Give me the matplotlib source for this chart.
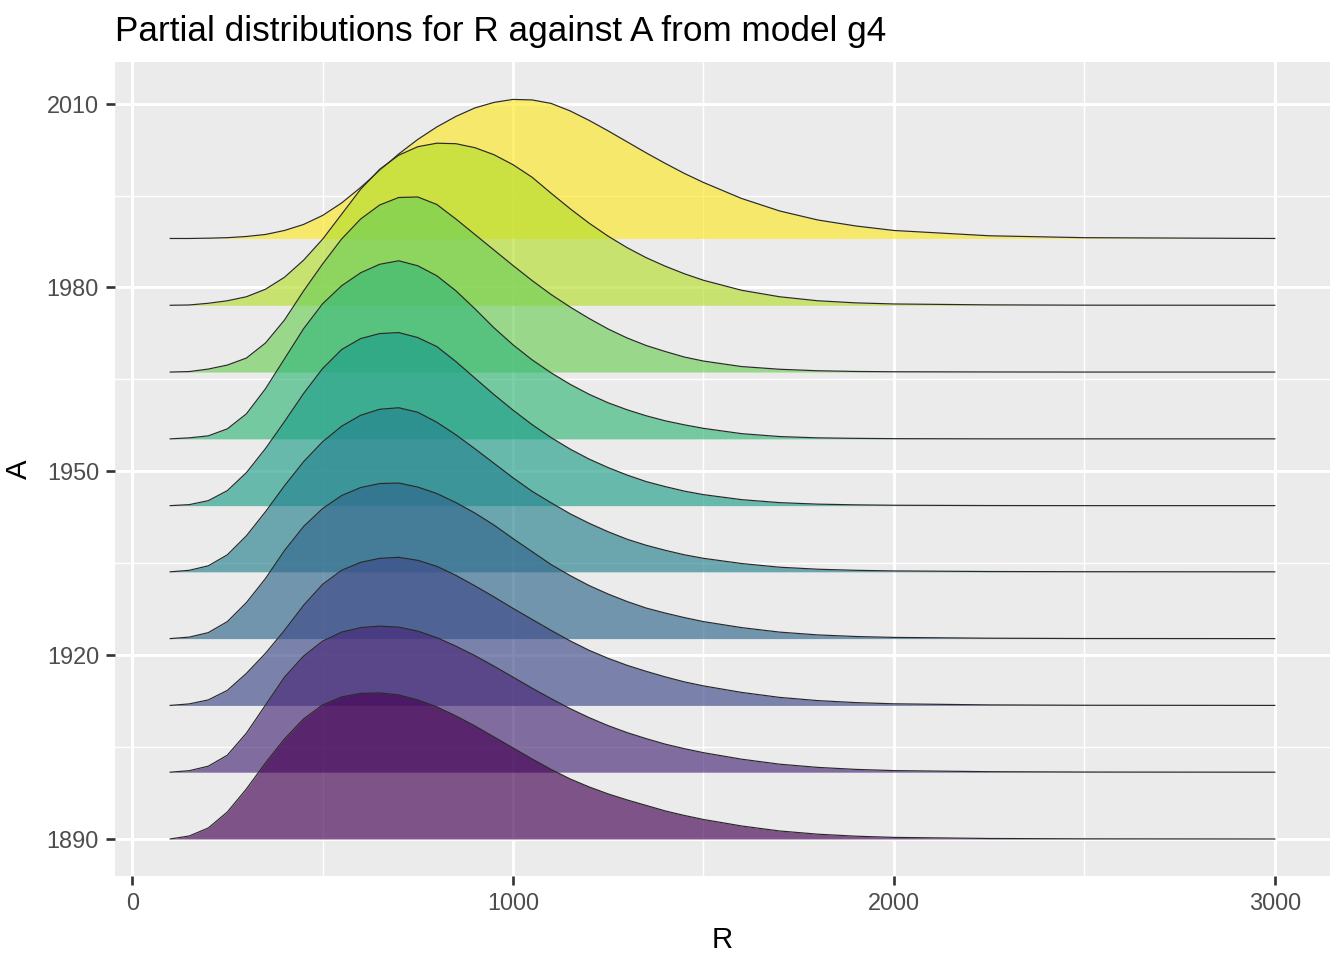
import numpy as np
import matplotlib.pyplot as plt

plt.rcParams['font.family'] = ['Liberation Sans', 'DejaVu Sans']

r_grid = [100, 150, 200, 250, 300, 350, 400, 450, 500, 550, 600, 650, 700,
          750, 800, 850, 900, 950, 1000, 1050, 1100, 1150, 1200, 1250, 1300,
          1350, 1400, 1450, 1500, 1600, 1700, 1800, 1900, 2000, 2250, 2500, 3000]

# A value of each ridge (baseline)
a_levels = [1890.0, 1900.9, 1911.8, 1922.7, 1933.6, 1944.4, 1955.3, 1966.2, 1977.1, 1988.0]

# ridge heights (scaled density) per A level
dens_1890 = [0, 3, 11, 27, 50, 76, 100, 120, 134, 142, 145.5, 146, 144, 139, 132, 123,
             113, 102, 91, 80, 69.5, 60, 52, 45, 39, 33.5, 28, 23.5, 19.5, 13, 8, 4.8,
             2.8, 1.6, 0.5, 0.15, 0]
dens_1901 = [0, 1.5, 6, 17, 39, 67, 95, 116, 131, 140, 144.5, 146, 145, 141, 134.5, 126,
             116.5, 106, 95, 84, 73.5, 63.5, 54.5, 46.5, 39.5, 33.5, 28, 23.5, 19.5, 13, 8, 4.8,
             2.8, 1.6, 0.5, 0.15, 0]
dens_1912 = [0, 1.5, 5.5, 15, 32, 52, 75, 100, 121, 135, 143, 147, 148, 145, 139, 130,
             119.5, 108.5, 97, 86, 75, 64.5, 55, 47, 40, 34, 28.5, 23.5, 19.5, 13, 8, 4.8,
             2.8, 1.6, 0.5, 0.15, 0]
dens_1923 = [0, 1.5, 6, 17, 36, 60, 88, 112, 130, 143, 151, 155, 155.5, 151.5, 145, 136,
             125.5, 113.5, 100, 87, 74, 63, 53, 44.5, 37, 30.5, 25.5, 21, 17, 11, 6.5, 3.7,
             2.1, 1.2, 0.4, 0.1, 0]
dens_1934 = [0, 1.5, 6, 17, 36, 60, 86, 110, 130, 145.5, 156.5, 162.5, 164, 159.5, 149.5, 137,
             123, 108.5, 94, 80.5, 69, 58, 48.5, 40, 32.5, 26.5, 21.5, 17, 13.5, 8.3, 4.6, 2.6,
             1.5, 0.9, 0.3, 0.1, 0]
dens_1944 = [0, 1, 5, 15, 33, 57, 84, 112, 137, 156, 167, 172, 173, 168, 159, 144,
             127.5, 111, 95.5, 81, 68, 56.5, 46.5, 38, 30.5, 24, 19, 14.5, 11, 6, 3, 1.5,
             0.8, 0.4, 0.1, 0, 0]
dens_1955 = [0, 1, 3, 10, 25, 50, 80, 110, 135, 153, 166, 174.5, 178, 173, 163, 148,
             130, 111, 94, 79, 66, 54.5, 44.5, 36, 29, 23, 18, 14, 10.5, 5.2, 2.3, 1,
             0.5, 0.2, 0, 0, 0]
dens_1966 = [0, 0.5, 3, 7, 14, 29, 52, 81, 108, 133, 153, 167, 174.5, 175, 167.5, 153,
             137.5, 122, 106.5, 91.5, 77.5, 65, 53.5, 43, 34, 26.5, 20.5, 15, 11, 5.5, 2.8, 1.3,
             0.6, 0.3, 0.1, 0, 0]
dens_1977 = [0, 0.3, 2, 4.5, 8.5, 16, 28, 45, 66, 91, 116, 136, 150, 158.5, 162, 161.5,
             157.5, 150.5, 140.5, 128, 112, 96.5, 82, 69, 57.5, 47.5, 39, 31.5, 25, 15, 8.5, 4.5,
             2.4, 1.3, 0.4, 0.1, 0]
dens_1988 = [0, 0, 0.3, 0.8, 2, 4, 8, 14, 23, 35.5, 51, 68, 84.5, 99, 111.5, 122,
             130.5, 136, 139, 138.5, 135, 127.5, 118, 107.5, 96.5, 85.5, 75, 65, 56, 40, 27.5, 18.5,
             12.5, 8, 2.7, 0.8, 0]

ridges = [dens_1890, dens_1901, dens_1912, dens_1923, dens_1934,
          dens_1944, dens_1955, dens_1966, dens_1977, dens_1988]

ridge_scale = 1 / 6.125  # density units -> A units

colors = plt.cm.viridis(np.linspace(0, 1, len(a_levels)))

fig = plt.figure(figsize=(7, 5), dpi=192)
ax = fig.add_axes([115 / 1344, 1 - 876 / 960, (1330 - 115) / 1344, (876 - 62) / 960])
ax.set_facecolor('#EBEBEB')

r = np.array(r_grid)
n = len(a_levels)
# top ridge first, lower ridges drawn over it
for i in range(n - 1, -1, -1):
    base = a_levels[i]
    top = base + np.array(ridges[i]) * ridge_scale
    z = 10 + (n - i) * 2
    ax.fill_between(r, base, top, color=colors[i], alpha=0.65, lw=0, zorder=z)
    ax.plot(r, top, color='#2a2a2a', lw=0.45, zorder=z + 1)

ax.set_xlim(-45, 3145)
ax.set_ylim(1883.96, 2016.8)
ax.set_xticks([0, 1000, 2000, 3000])
ax.set_xticks([500, 1500, 2500], minor=True)
ax.set_yticks([1890, 1920, 1950, 1980, 2010])
ax.set_yticks([1905, 1935, 1965, 1995], minor=True)

ax.grid(which='major', color='white', lw=1.1, zorder=1)
ax.grid(which='minor', color='white', lw=0.55, zorder=1)
ax.set_axisbelow(True)
for s in ax.spines.values():
    s.set_visible(False)

ax.tick_params(which='major', length=3.5, width=1.0, color='#333333',
               labelsize=8.8, labelcolor='#4D4D4D', pad=2.5)
ax.tick_params(which='minor', length=0)

ax.set_xlabel('R', fontsize=11, labelpad=4)
ax.set_ylabel('A', fontsize=11, labelpad=5)
ax.set_title('Partial distributions for R against A from model g4',
             loc='left', fontsize=13.2, pad=8)

fig.savefig('out.png', dpi=192)
